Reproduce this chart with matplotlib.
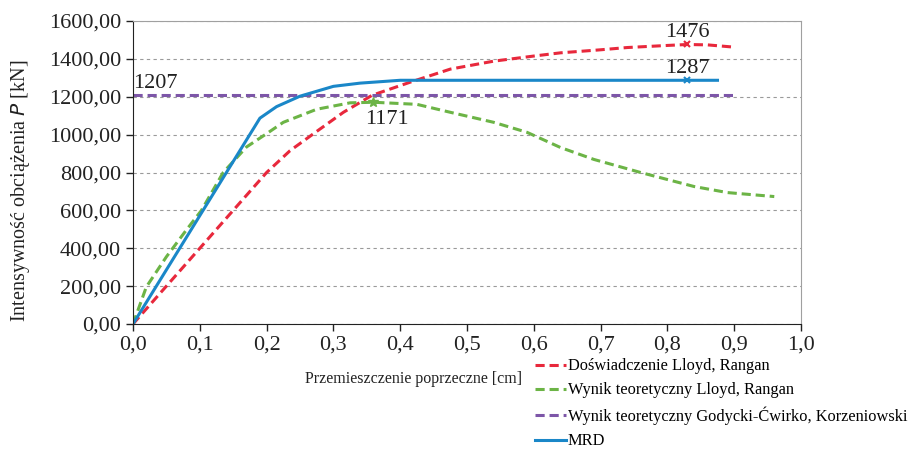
import matplotlib.pyplot as plt
import numpy as np

plt.rcParams['font.family'] = ['Liberation Serif', 'DejaVu Serif']

# Doświadczenie Lloyd, Rangan
x_dosw = [0.0, 0.05, 0.1, 0.15, 0.2, 0.235, 0.275, 0.315, 0.358, 0.415, 0.475, 0.54, 0.6, 0.64, 0.7, 0.74, 0.8, 0.83, 0.86, 0.9]
p_dosw = [0, 200, 400, 600, 800, 915, 1017, 1118, 1208, 1277, 1346, 1388, 1415, 1432, 1448, 1460, 1471, 1476, 1474, 1462]

# Wynik teoretyczny Lloyd, Rangan
x_teor = [0.0, 0.02, 0.05, 0.08, 0.1025, 0.135, 0.17, 0.2, 0.225, 0.275, 0.325, 0.36, 0.425, 0.475, 0.54, 0.59, 0.64, 0.69, 0.76, 0.84, 0.89, 0.96]
p_teor = [0, 196, 355, 497, 600, 800, 935, 1005, 1065, 1134, 1168, 1171, 1160, 1118, 1065, 1012, 932, 869, 800, 726, 694, 673]

# Wynik teoretyczny Godycki-Ćwirko, Korzeniowski
x_gc = [0.0, 0.9]
p_gc = [1207, 1207]

# MRD
x_mrd = [0.0, 0.19, 0.215, 0.25, 0.3, 0.34, 0.4, 0.83, 0.875]
p_mrd = [0, 1087, 1148, 1203, 1255, 1272, 1287, 1287, 1287]

# etykiety maksimów
max_dosw = (0.83, 1476)
max_teor = (0.36, 1171)
max_mrd = (0.83, 1287)

c_red = '#e8283c'
c_green = '#6cb446'
c_purple = '#7d56a8'
c_blue = '#1a87c8'
c_text = '#222222'

fig = plt.figure(figsize=(9.21, 4.5), dpi=100)
ax = fig.add_axes([0.1444, 0.28, 0.7253, 0.6733])

ax.plot(x_dosw, p_dosw, color=c_red, lw=2.2, ls=(0, (3, 1.6)), label='Doświadczenie Lloyd, Rangan')
ax.plot(x_teor, p_teor, color=c_green, lw=2.2, ls=(0, (3, 1.6)), label='Wynik teoretyczny Lloyd, Rangan')
ax.plot(x_gc, p_gc, color=c_purple, lw=2.2, ls=(0, (3, 1.6)), label='Wynik teoretyczny Godycki-Ćwirko, Korzeniowski')
ax.plot(x_mrd, p_mrd, color=c_blue, lw=2.2, label='MRD')

ax.plot(*max_dosw, marker='x', color=c_red, ms=5, mew=1.5)
ax.plot(*max_teor, marker='*', color=c_green, ms=7)
ax.plot(*max_mrd, marker='x', color=c_blue, ms=5, mew=1.5)

ax.text(max_dosw[0], max_dosw[1] + 12, '1476', ha='center', va='bottom', fontsize=16, color=c_text)
ax.text(max_mrd[0], max_mrd[1] + 12, '1287', ha='center', va='bottom', fontsize=16, color=c_text)
ax.text(max_teor[0] + 0.02, max_teor[1] - 40, '1171', ha='center', va='top', fontsize=16, color=c_text)
ax.text(0.0, p_gc[0] + 12, '1207', ha='left', va='bottom', fontsize=16, color=c_text)

ax.set_xlim(0, 1.0)
ax.set_ylim(0, 1600)
ax.set_xticks(np.arange(0, 1.01, 0.1))
ax.set_yticks(np.arange(0, 1601, 200))
ax.set_xticklabels([f'{v:.1f}'.replace('.', ',') for v in np.arange(0, 1.01, 0.1)])
ax.set_yticklabels([f'{v:.2f}'.replace('.', ',') for v in np.arange(0, 1601, 200)])
ax.tick_params(labelsize=16, colors=c_text, length=5, width=1)
ax.yaxis.grid(True, ls=(0, (3, 3)), color='#9a9a9a', lw=0.8)

ax.spines['left'].set_color(c_text)
ax.spines['bottom'].set_color(c_text)
ax.spines['top'].set_color('#a0a0a0')
ax.spines['right'].set_color('#a0a0a0')

ax.set_ylabel('Intensywność obciążenia $\\mathit{P}$ [kN]', fontsize=14.5, color=c_text)
ax.yaxis.set_label_coords(-0.151, 0.44)
ax.set_xlabel('Przemieszczenie poprzeczne [cm]', fontsize=11.5, color=c_text)
ax.xaxis.set_label_coords(0.42, -0.155)

fig.legend(loc='upper left', bbox_to_anchor=(0.572, 0.222), frameon=False, fontsize=11.8,
           handlelength=1.9, handletextpad=0.1, labelspacing=0.5, borderpad=0)

fig.savefig('out.png', dpi=100)
